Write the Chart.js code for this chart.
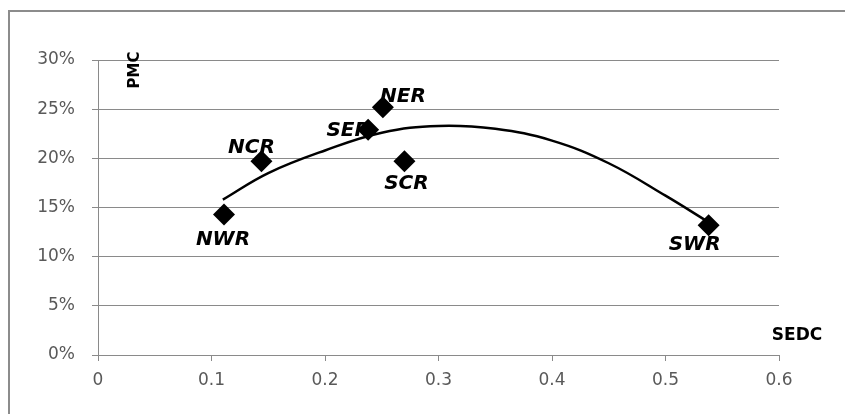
<!DOCTYPE html>
<html>
<head>
<meta charset="utf-8">
<script src="https://cdn.jsdelivr.net/npm/chart.js@4/dist/chart.umd.min.js"></script>
<style>
  html, body { margin: 0; padding: 0; background: #fff; }
  #wrap { width: 845px; height: 414px; position: relative; }
</style>
</head>
<body>
<div id="wrap"><canvas id="regionChart"></canvas></div>
<script>
// regions and their (SEDC, PMC %) values
const regions = ['NWR', 'NCR', 'SER', 'NER', 'SCR', 'SWR'];
const sedcValues = [0.111, 0.144, 0.238, 0.251, 0.270, 0.538];
const pmcValues = [14.3, 19.7, 22.9, 25.2, 19.7, 13.2];

// polynomial trend line
const trendX = [0.11, 0.15, 0.2, 0.25, 0.3, 0.35, 0.4, 0.45, 0.5, 0.538];
const trendY = [15.8, 18.5, 20.8, 22.6, 23.3, 23.0, 21.8, 19.5, 16.2, 13.5];

const xTicks = [0, 0.1, 0.2, 0.3, 0.4, 0.5, 0.6];
const yTicks = [0, 5, 10, 15, 20, 25, 30];

// where each region name sits relative to its marker
const labelOffset = {
    NWR: [-1, 25], NCR: [-10, -13], SER: [-20, 1],
    NER: [20, -10], SCR: [2, 23], SWR: [-14, 20]
};

const gray = '#8a8a8a';
const tickFont = { family: 'DejaVu Sans', size: 17 };

const pointLabels = {
    id: 'pointLabels',
    beforeDatasetsDraw(chart) {
        const ctx = chart.ctx;
        const meta = chart.getDatasetMeta(0);
        ctx.save();
        ctx.fillStyle = '#000';
        ctx.font = 'italic bold 20px "DejaVu Sans"';
        ctx.textAlign = 'center';
        ctx.textBaseline = 'middle';
        meta.data.forEach((pt, i) => {
            const off = labelOffset[regions[i]];
            ctx.fillText(regions[i], pt.x + off[0], pt.y + off[1]);
        });
        ctx.restore();
    }
};

const frameAndTitles = {
    id: 'frameAndTitles',
    afterDraw(chart) {
        const ctx = chart.ctx;
        ctx.save();
        // outer frame (left + top edges visible)
        ctx.strokeStyle = '#8c8c8c';
        ctx.lineWidth = 2;
        ctx.beginPath();
        ctx.moveTo(9, 420);
        ctx.lineTo(9, 11);
        ctx.lineTo(860, 11);
        ctx.stroke();

        ctx.fillStyle = '#000';
        ctx.font = 'bold 17px "DejaVu Sans"';
        ctx.textAlign = 'center';
        ctx.textBaseline = 'middle';
        ctx.fillText('SEDC', 797, 336);

        ctx.translate(135, 70);
        ctx.rotate(-Math.PI / 2);
        ctx.font = 'bold 15px "DejaVu Sans"';
        ctx.fillText('PMC', 0, 0);
        ctx.restore();
    }
};

new Chart(document.getElementById('regionChart'), {
    type: 'scatter',
    data: {
        datasets: [{
            label: 'Regions',
            data: sedcValues.map((x, i) => ({ x: x, y: pmcValues[i] })),
            pointStyle: 'rectRot',
            pointRadius: 11,
            pointHoverRadius: 11,
            backgroundColor: '#000',
            borderColor: '#000',
            borderWidth: 0,
            order: 1
        }, {
            label: 'Trend',
            type: 'line',
            data: trendX.map((x, i) => ({ x: x, y: trendY[i] })),
            showLine: true,
            borderColor: '#000',
            borderWidth: 2.5,
            pointRadius: 0,
            tension: 0.4,
            fill: false,
            order: 2
        }]
    },
    options: {
        responsive: true,
        maintainAspectRatio: false,
        animation: false,
        layout: { padding: { top: 60, right: 66, left: 0, bottom: 0 } },
        plugins: {
            legend: { display: false },
            tooltip: { enabled: false }
        },
        scales: {
            x: {
                type: 'linear',
                min: 0,
                max: 0.6,
                afterBuildTicks: s => { s.ticks = xTicks.map(v => ({ value: v })); },
                afterFit: s => { s.height = 59; },
                ticks: {
                    callback: v => v === 0 ? '0' : v.toFixed(1),
                    color: '#595959',
                    font: tickFont,
                    padding: 9,
                    maxRotation: 0
                },
                grid: { drawOnChartArea: false, drawTicks: true, tickLength: 6, color: gray },
                border: { color: gray, width: 1 }
            },
            y: {
                min: 0,
                max: 30,
                afterBuildTicks: s => { s.ticks = yTicks.map(v => ({ value: v })); },
                afterFit: s => { s.width = 98; },
                ticks: {
                    callback: v => v + '%',
                    color: '#595959',
                    font: tickFont,
                    padding: 17
                },
                grid: { color: gray, tickLength: 6 },
                border: { color: gray, width: 1 }
            }
        }
    },
    plugins: [pointLabels, frameAndTitles]
});
</script>
</body>
</html>
